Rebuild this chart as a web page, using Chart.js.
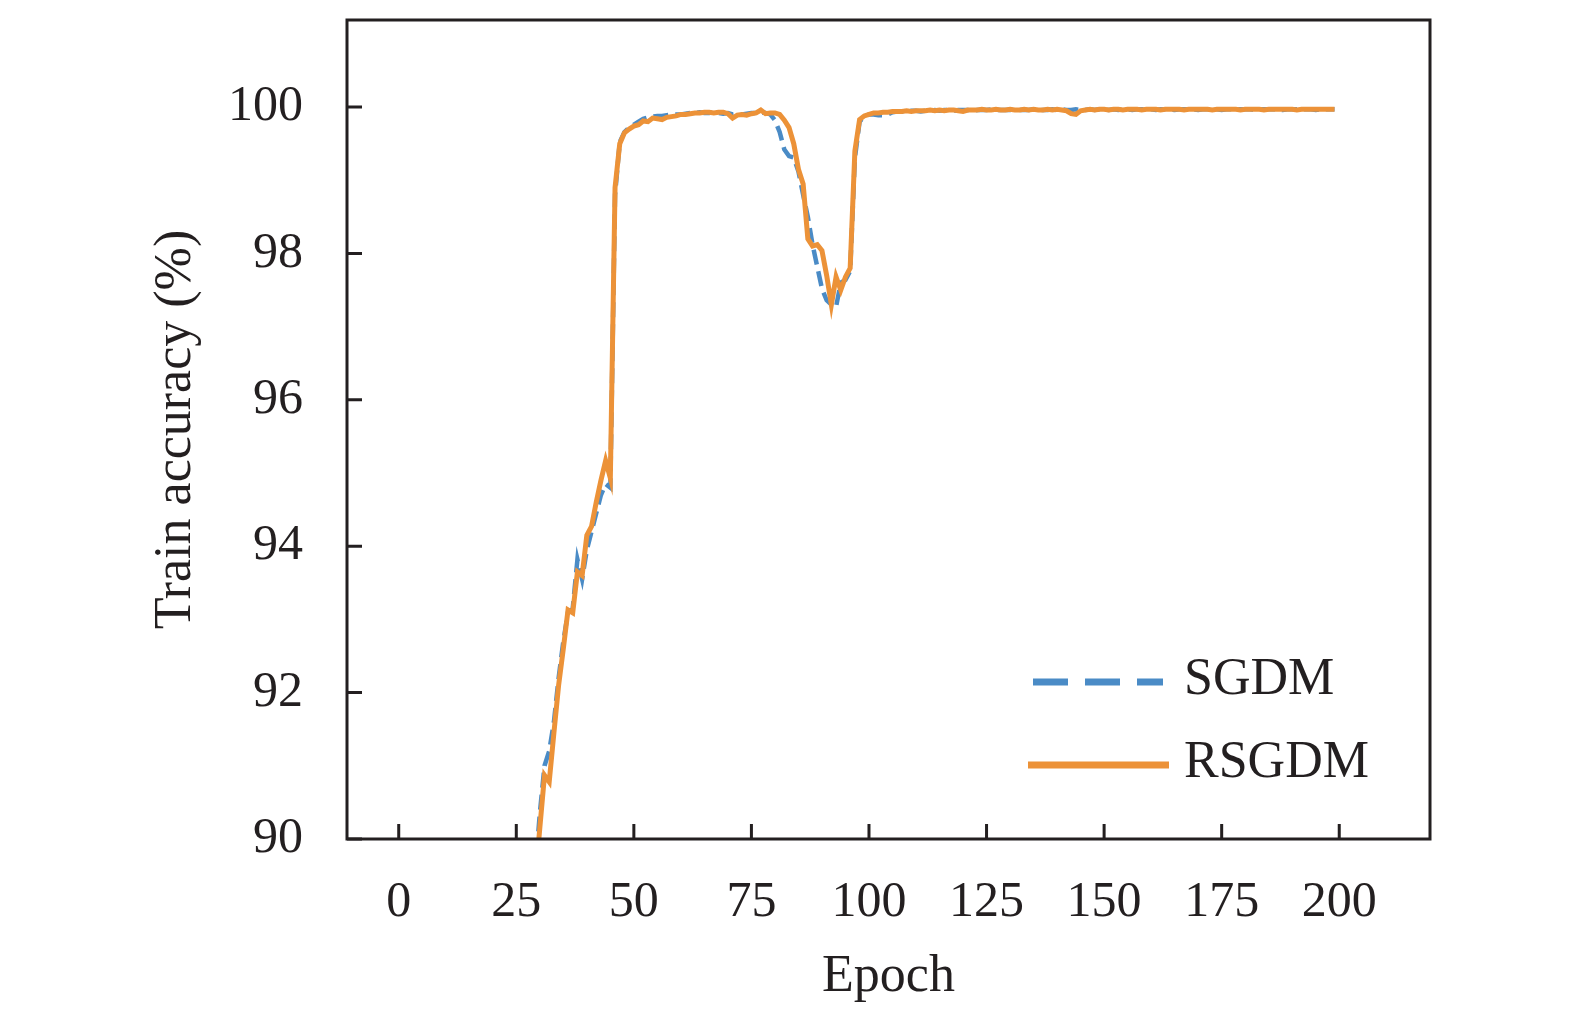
<!DOCTYPE html>
<html>
<head>
<meta charset="utf-8">
<script src="https://cdn.jsdelivr.net/npm/chart.js@4.4.1/dist/chart.umd.min.js"></script>
<style>
  html, body { margin: 0; padding: 0; background: #fff; }
  #wrap { width: 1575px; height: 1028px; }
</style>
</head>
<body>
<div id="wrap"><canvas id="myChart" width="1575" height="1028"></canvas></div>
<script>
// train accuracy per epoch (epochs 0..199)
const sgdm = [
  37.9, 53.6, 62.5, 67.8, 71.6, 74.4, 76.3, 77.9, 79.1, 80.0,
  80.8, 81.5, 82.1, 82.7, 83.2, 83.7, 84.2, 84.7, 85.1, 85.6,
  86.0, 86.4, 86.8, 87.2, 87.6, 88.0, 88.4, 88.8, 89.2, 89.55,
  90.35, 91.0, 91.2, 91.6, 92.2, 92.7, 93.1, 93.15, 93.82, 93.55,
  93.95, 94.2, 94.45, 94.7, 94.85, 94.8, 98.8, 99.52, 99.66, 99.72,
  99.76, 99.8, 99.84, 99.86, 99.87, 99.88, 99.88, 99.89, 99.9, 99.9,
  99.9, 99.91, 99.92, 99.92, 99.93, 99.92, 99.92, 99.93, 99.92, 99.91,
  99.92, 99.9, 99.91, 99.9, 99.91, 99.92, 99.92, 99.93, 99.92, 99.9,
  99.82, 99.66, 99.42, 99.33, 99.31, 99.12, 98.8, 98.5, 98.12, 97.82,
  97.52, 97.36, 97.3, 97.27, 97.6, 97.64, 97.76, 99.3, 99.8, 99.87,
  99.9, 99.9, 99.89, 99.89, 99.9, 99.93, 99.94, 99.94, 99.94, 99.95,
  99.95, 99.94, 99.95, 99.95, 99.96, 99.95, 99.96, 99.96, 99.95, 99.96,
  99.96, 99.96, 99.95, 99.96, 99.96, 99.96, 99.97, 99.96, 99.96, 99.96,
  99.96, 99.97, 99.96, 99.96, 99.96, 99.97, 99.96, 99.96, 99.96, 99.97,
  99.96, 99.97, 99.96, 99.96, 99.97, 99.96, 99.96, 99.97, 99.96, 99.97,
  99.97, 99.96, 99.97, 99.96, 99.97, 99.97, 99.96, 99.97, 99.97, 99.97,
  99.97, 99.96, 99.97, 99.97, 99.97, 99.96, 99.97, 99.97, 99.97, 99.97,
  99.96, 99.97, 99.97, 99.97, 99.97, 99.96, 99.97, 99.97, 99.97, 99.97,
  99.97, 99.97, 99.96, 99.97, 99.97, 99.97, 99.97, 99.97, 99.96, 99.97,
  99.97, 99.97, 99.97, 99.97, 99.97, 99.96, 99.97, 99.97, 99.97, 99.97
];
const rsgdm = [
  38.5, 54.2, 62.8, 68.1, 71.9, 74.6, 76.5, 78.0, 79.2, 80.1,
  80.9, 81.6, 82.2, 82.8, 83.3, 83.8, 84.3, 84.8, 85.2, 85.7,
  86.1, 86.5, 86.9, 87.3, 87.7, 88.1, 88.5, 88.9, 89.3, 89.4,
  90.15, 90.87, 90.78, 91.45, 92.1, 92.6, 93.13, 93.09, 93.65, 93.6,
  94.15, 94.27, 94.6, 94.9, 95.17, 94.93, 98.9, 99.5, 99.65, 99.7,
  99.74, 99.76, 99.81, 99.8, 99.85, 99.84, 99.83, 99.86, 99.87, 99.88,
  99.9, 99.9, 99.91, 99.92, 99.92, 99.93, 99.93, 99.92, 99.93, 99.93,
  99.91, 99.85, 99.89, 99.9, 99.89, 99.91, 99.92, 99.96, 99.91, 99.92,
  99.92, 99.9, 99.82, 99.72, 99.5, 99.15, 98.95, 98.2, 98.1, 98.12,
  98.04, 97.7, 97.3, 97.68, 97.5, 97.68, 97.8, 99.4, 99.83, 99.88,
  99.9, 99.92, 99.92, 99.93, 99.93, 99.94, 99.94, 99.94, 99.95, 99.94,
  99.95, 99.95, 99.95, 99.96, 99.95, 99.96, 99.95, 99.96, 99.96, 99.95,
  99.94, 99.96, 99.96, 99.96, 99.97, 99.96, 99.96, 99.97, 99.96, 99.96,
  99.97, 99.96, 99.96, 99.97, 99.96, 99.97, 99.96, 99.96, 99.97, 99.96,
  99.97, 99.96, 99.95, 99.91, 99.9, 99.95, 99.96, 99.97, 99.96, 99.97,
  99.97, 99.96, 99.97, 99.97, 99.96, 99.97, 99.97, 99.97, 99.96, 99.97,
  99.97, 99.97, 99.96, 99.97, 99.97, 99.97, 99.97, 99.96, 99.97, 99.97,
  99.97, 99.97, 99.97, 99.96, 99.97, 99.97, 99.97, 99.97, 99.97, 99.96,
  99.97, 99.97, 99.97, 99.97, 99.96, 99.97, 99.97, 99.97, 99.97, 99.97,
  99.97, 99.96, 99.97, 99.97, 99.97, 99.97, 99.97, 99.97, 99.97, 99.97
];
const seriesNames = ['SGDM', 'RSGDM'];
const xTicks = [0, 25, 50, 75, 100, 125, 150, 175, 200];
const yTicks = [90, 92, 94, 96, 98, 100];

const INK = '#231f20';
const FONT = 'Liberation Serif, Times New Roman, serif';
const BLUE = '#4a8bc6';
const ORANGE = '#ec9238';

const epochs = sgdm.map((v, i) => i);

// inward tick marks and the closed box around the plot
const frame = {
    id: 'frame',
    afterDatasetsDraw(chart) {
        const {ctx, chartArea: a, scales: {x, y}} = chart;
        ctx.save();
        ctx.strokeStyle = INK;
        ctx.lineWidth = 3;
        ctx.beginPath();
        xTicks.forEach(v => {
            const px = x.getPixelForValue(v);
            ctx.moveTo(px, a.bottom);
            ctx.lineTo(px, a.bottom - 15);
        });
        yTicks.forEach(v => {
            const py = y.getPixelForValue(v);
            ctx.moveTo(a.left, py);
            ctx.lineTo(a.left + 15, py);
        });
        ctx.stroke();
        ctx.strokeRect(a.left, a.top, a.right - a.left, a.bottom - a.top);
        ctx.restore();
    }
};

// legend sitting inside the axes, lower right
const innerLegend = {
    id: 'innerLegend',
    afterDraw(chart) {
        const {ctx} = chart;
        const rows = [
            {y: 682, x0: 1033, x1: 1163, dash: [35, 17], ds: chart.data.datasets[0]},
            {y: 765, x0: 1028, x1: 1169, dash: [], ds: chart.data.datasets[1]}
        ];
        ctx.save();
        rows.forEach(r => {
            ctx.strokeStyle = r.ds.borderColor;
            ctx.lineWidth = 7;
            ctx.lineCap = 'butt';
            ctx.setLineDash(r.dash);
            ctx.beginPath();
            ctx.moveTo(r.x0, r.y);
            ctx.lineTo(r.x1, r.y);
            ctx.stroke();
            ctx.setLineDash([]);
            ctx.fillStyle = INK;
            ctx.font = '52px ' + FONT;
            ctx.textBaseline = 'middle';
            ctx.fillText(r.ds.label, 1184, r.y - 2);
        });
        ctx.restore();
    }
};

function initChart() {
    const ctx = document.getElementById('myChart');
    new Chart(ctx, {
        type: 'line',
        data: {
            datasets: [{
                label: seriesNames[0],
                data: epochs.map((e, i) => ({x: e, y: sgdm[i]})),
                borderColor: BLUE,
                borderWidth: 4.5,
                borderDash: [15, 7],
                pointRadius: 0,
                tension: 0,
                clip: 0,
                order: 1
            }, {
                label: seriesNames[1],
                data: epochs.map((e, i) => ({x: e, y: rsgdm[i]})),
                borderColor: ORANGE,
                borderWidth: 5,
                pointRadius: 0,
                tension: 0,
                clip: 0,
                order: 0
            }]
        },
        options: {
            responsive: false,
            animation: false,
            events: [],
            layout: {padding: {top: 20, right: 145, left: 0, bottom: 0}},
            plugins: {legend: {display: false}, tooltip: {enabled: false}},
            scales: {
                x: {
                    type: 'linear',
                    min: -11,
                    max: 219.3,
                    grid: {display: false, drawTicks: false},
                    border: {display: false},
                    afterBuildTicks: s => { s.ticks = xTicks.map(v => ({value: v})); },
                    afterFit: s => {
                        s.height = 189;
                        s.paddingLeft = 0;
                        s.paddingRight = 0;
                    },
                    ticks: {
                        color: INK,
                        padding: 34,
                        maxRotation: 0,
                        font: {family: FONT, size: 50}
                    },
                    title: {
                        display: true,
                        text: 'Epoch',
                        color: INK,
                        padding: {top: 0, bottom: 19},
                        font: {family: FONT, size: 52}
                    }
                },
                y: {
                    min: 90,
                    max: 101.19,
                    grid: {display: false, drawTicks: false},
                    border: {display: false},
                    afterBuildTicks: s => { s.ticks = yTicks.map(v => ({value: v})); },
                    afterFit: s => {
                        s.width = 347;
                        s.paddingTop = 0;
                        s.paddingBottom = 0;
                    },
                    ticks: {
                        color: INK,
                        padding: 44,
                        font: {family: FONT, size: 50}
                    },
                    title: {
                        display: true,
                        text: 'Train accuracy (%)',
                        color: INK,
                        padding: {top: 145, bottom: 0},
                        font: {family: FONT, size: 52}
                    }
                }
            }
        },
        plugins: [frame, innerLegend]
    });
}

document.addEventListener('DOMContentLoaded', initChart);
</script>
</body>
</html>
